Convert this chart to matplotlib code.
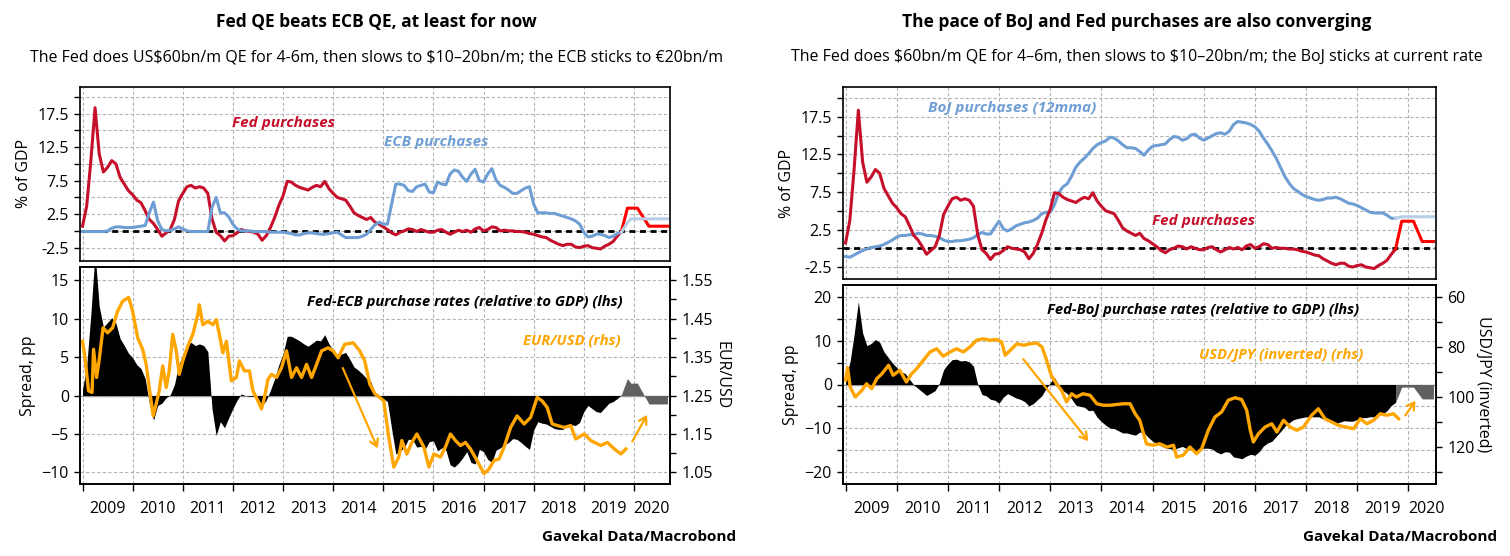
import numpy as np
import matplotlib
matplotlib.use('Agg')
import matplotlib.pyplot as plt
from matplotlib.ticker import FixedLocator, NullFormatter, FormatStrFormatter

plt.rcParams['font.family'] = ['Open Sans', 'DejaVu Sans']
plt.rcParams['axes.unicode_minus'] = True

# monthly grid Jan 2009 .. Oct 2019 (decimal years)
months = 2009 + np.arange(130) / 12

# Fed purchases, % of GDP (annualised)
fed = [0.7, 3.7, 10.5, 18.4, 11.5, 8.8, 9.5, 10.5, 10.0, 8.0, 7.0, 6.0,
       5.4, 4.6, 4.2, 3.0, 1.7, 1.1, 0.2, -0.8, -0.3, 0.2, 1.7, 4.5,
       5.6, 6.6, 6.8, 6.4, 6.6, 6.4, 5.6, 1.8, -0.2, -0.7, -1.5, -0.8,
       -0.7, -0.3, 0.2, 0.0, -0.1, -0.2, -0.5, -1.4, -0.7, 0.5, 2.0, 3.8,
       5.2, 7.4, 7.3, 6.8, 6.5, 6.3, 6.1, 6.5, 6.8, 6.6, 7.4, 6.3,
       5.6, 5.0, 4.8, 4.6, 3.7, 2.7, 2.3, 2.0, 1.7, 2.0, 1.3, 1.0,
       0.6, 0.2, -0.3, -0.6, -0.2, 0.0, 0.3, 0.2, -0.1, 0.2, 0.0, -0.2,
       -0.2, 0.1, 0.2, -0.2, -0.5, -0.2, 0.1, -0.1, 0.1, -0.2, 0.3, 0.5,
       0.0, 0.2, 0.6, 0.5, 0.0, 0.1, 0.0, 0.0, -0.1, -0.1, -0.2, -0.4,
       -0.5, -0.7, -0.9, -1.0, -1.4, -1.7, -2.0, -2.2, -2.0, -2.0, -2.4, -2.5,
       -2.3, -2.2, -2.5, -2.6, -2.7, -2.3, -2.0, -1.6, -0.8, -0.1]

# ECB purchases, % of GDP
ecb = [-0.1, -0.1, -0.1, -0.1, -0.1, -0.1, 0.0, 0.4, 0.6, 0.6, 0.5, 0.5,
       0.5, 0.6, 0.7, 0.8, 2.7, 4.3, 1.5, 0.2, 0.0, 0.1, 0.3, 0.6,
       0.3, 0.0, -0.1, -0.1, -0.1, -0.1, -0.1, 3.5, 5.0, 2.7, 2.7, 2.1,
       1.0, 0.3, 0.0, 0.0, 0.0, -0.1, -0.1, -0.1, -0.1, -0.2, -0.2, -0.2,
       -0.2, -0.3, -0.4, -0.6, -0.6, -0.4, -0.3, -0.3, -0.4, -0.5, -0.5, -0.4,
       -0.3, -0.2, -0.6, -1.0, -1.0, -1.0, -1.0, -0.8, -0.5, 0.2, 0.9, 1.3,
       1.0, 1.0, 4.0, 7.0, 7.0, 6.8, 6.0, 5.9, 6.6, 6.8, 7.0, 5.8,
       5.7, 7.3, 7.0, 6.9, 8.5, 9.1, 8.9, 8.0, 7.4, 8.5, 9.2, 7.5,
       7.3, 8.5, 9.3, 7.6, 6.8, 6.5, 6.1, 5.6, 5.6, 6.0, 6.4, 6.6,
       4.0, 2.7, 2.7, 2.7, 2.6, 2.6, 2.4, 2.2, 2.0, 1.8, 1.5, 1.0,
       -0.2, -0.9, -0.8, -0.5, -0.5, -0.7, -1.0, -0.8, -0.4, -0.2]

# BoJ purchases (12mma), % of GDP
boj = [-1.1, -1.2, -0.9, -0.6, -0.3, -0.1, 0.1, 0.2, 0.3, 0.5, 0.8, 1.1,
       1.5, 1.7, 1.7, 1.8, 1.8, 2.0, 1.9, 1.7, 1.7, 1.6, 1.4, 1.1,
       0.9, 0.9, 1.0, 1.0, 1.1, 1.2, 1.4, 1.8, 2.1, 1.9, 1.9, 2.8,
       3.6, 2.6, 2.3, 2.6, 3.0, 3.2, 3.4, 3.5, 3.7, 4.0, 4.6, 4.8,
       4.8, 5.8, 7.4, 8.2, 8.6, 9.6, 10.8, 11.5, 12.0, 12.6, 13.3, 13.8,
       14.1, 14.3, 14.8, 14.7, 14.3, 13.8, 13.4, 13.4, 13.3, 12.9, 12.4, 13.1,
       13.6, 13.7, 13.8, 13.9, 14.5, 14.9, 14.8, 14.4, 14.6, 15.1, 15.2, 14.7,
       14.4, 14.7, 15.0, 15.3, 15.4, 15.2, 15.6, 16.5, 16.9, 16.8, 16.7, 16.5,
       16.2, 15.6, 14.7, 13.9, 13.0, 12.0, 10.8, 9.6, 8.7, 8.0, 7.6, 7.2,
       6.9, 6.7, 6.5, 6.4, 6.5, 6.7, 6.7, 6.8, 6.6, 6.3, 6.0, 5.9,
       5.7, 5.4, 5.1, 4.8, 4.7, 4.7, 4.7, 4.4, 4.0, 4.0]

# scenario paths
ecb_proj_dates = [2019.75, 2019.87, 2019.94, 2020.07, 2020.30, 2020.67]
fed_proj_ecb = [-0.1, 3.4, 3.4, 3.4, 0.7, 0.7]
ecb_proj = [-0.2, 1.2, 1.8, 1.8, 1.8, 1.8]

boj_proj_dates = [2019.75, 2019.87, 2020.10, 2020.27, 2020.49]
fed_proj_boj = [-0.1, 3.6, 3.6, 0.9, 0.9]
boj_proj = [4.0, 4.2, 4.2, 4.2, 4.2]

# EUR/USD
eur_dates = [2009.00, 2009.05, 2009.12, 2009.19, 2009.22, 2009.28, 2009.33, 2009.41, 2009.50, 2009.60,
             2009.70, 2009.80, 2009.92, 2010.00, 2010.10, 2010.20, 2010.27, 2010.33, 2010.41, 2010.47,
             2010.53, 2010.60, 2010.67, 2010.73, 2010.80, 2010.87, 2010.93, 2011.00, 2011.10, 2011.20,
             2011.30, 2011.33, 2011.40, 2011.50, 2011.60, 2011.67, 2011.73, 2011.80, 2011.87, 2011.97,
             2012.07, 2012.13, 2012.23, 2012.33, 2012.40, 2012.50, 2012.57, 2012.63, 2012.70, 2012.77,
             2012.87, 2012.97, 2013.07, 2013.17, 2013.27, 2013.37, 2013.47, 2013.57, 2013.67, 2013.77,
             2013.90, 2014.00, 2014.10, 2014.23, 2014.40, 2014.53, 2014.63, 2014.73, 2014.83, 2014.93,
             2015.01, 2015.11, 2015.21, 2015.31, 2015.37, 2015.47, 2015.57, 2015.67, 2015.81, 2015.91,
             2016.01, 2016.14, 2016.24, 2016.34, 2016.44, 2016.54, 2016.64, 2016.74, 2016.87, 2017.01,
             2017.11, 2017.21, 2017.31, 2017.41, 2017.54, 2017.67, 2017.81, 2017.94, 2018.07, 2018.17,
             2018.27, 2018.37, 2018.47, 2018.61, 2018.74, 2018.84, 2019.01, 2019.14, 2019.34, 2019.47,
             2019.61, 2019.74, 2019.84]
eur_usd = [1.391, 1.348, 1.262, 1.258, 1.370, 1.297, 1.340, 1.426, 1.413, 1.426,
           1.469, 1.495, 1.505, 1.469, 1.400, 1.370, 1.331, 1.271, 1.197, 1.228,
           1.262, 1.327, 1.271, 1.314, 1.409, 1.366, 1.305, 1.340, 1.378, 1.409,
           1.460, 1.486, 1.434, 1.443, 1.434, 1.447, 1.409, 1.361, 1.391, 1.288,
           1.297, 1.340, 1.314, 1.314, 1.262, 1.236, 1.215, 1.245, 1.292, 1.305,
           1.297, 1.322, 1.366, 1.297, 1.322, 1.297, 1.331, 1.297, 1.331, 1.366,
           1.374, 1.366, 1.348, 1.383, 1.387, 1.366, 1.340, 1.280, 1.255, 1.245,
           1.236, 1.141, 1.064, 1.090, 1.133, 1.098, 1.128, 1.150, 1.116, 1.064,
           1.098, 1.090, 1.116, 1.150, 1.133, 1.120, 1.128, 1.111, 1.081, 1.047,
           1.059, 1.081, 1.085, 1.116, 1.167, 1.197, 1.176, 1.193, 1.245, 1.236,
           1.219, 1.176, 1.172, 1.167, 1.172, 1.137, 1.150, 1.133, 1.120, 1.128,
           1.111, 1.098, 1.111]

# USD/JPY
jpy_dates = [2009.00, 2009.04, 2009.09, 2009.19, 2009.32, 2009.41, 2009.51, 2009.61, 2009.71, 2009.84,
             2009.93, 2010.06, 2010.19, 2010.29, 2010.39, 2010.52, 2010.65, 2010.78, 2010.91, 2011.04,
             2011.17, 2011.30, 2011.43, 2011.56, 2011.69, 2011.82, 2011.95, 2012.05, 2012.12, 2012.22,
             2012.35, 2012.48, 2012.61, 2012.74, 2012.84, 2012.93, 2013.02, 2013.12, 2013.22, 2013.32,
             2013.42, 2013.51, 2013.64, 2013.78, 2013.91, 2014.04, 2014.17, 2014.30, 2014.43, 2014.56,
             2014.66, 2014.75, 2014.88, 2015.01, 2015.14, 2015.28, 2015.41, 2015.47, 2015.60, 2015.73,
             2015.86, 2015.96, 2016.09, 2016.22, 2016.35, 2016.48, 2016.61, 2016.74, 2016.84, 2016.91,
             2016.97, 2017.07, 2017.20, 2017.33, 2017.43, 2017.56, 2017.69, 2017.82, 2017.95, 2018.11,
             2018.24, 2018.37, 2018.50, 2018.63, 2018.77, 2018.93, 2019.06, 2019.19, 2019.32, 2019.45,
             2019.58, 2019.71, 2019.81]
usd_jpy = [93.3, 88.3, 96.0, 100.0, 97.3, 94.7, 96.7, 92.7, 90.7, 87.3,
           91.3, 89.3, 94.0, 90.7, 88.7, 85.3, 82.0, 80.7, 83.7, 82.0,
           80.7, 82.0, 80.0, 77.3, 76.7, 77.3, 77.0, 78.0, 83.3, 81.3,
           78.7, 79.3, 78.7, 78.4, 80.0, 85.3, 91.3, 94.7, 97.3, 102.0,
           98.7, 100.0, 98.7, 99.3, 102.7, 103.3, 103.3, 103.0, 102.7, 102.7,
           106.7, 109.3, 118.7, 119.3, 118.7, 120.0, 119.3, 124.0, 123.3, 120.0,
           122.7, 120.7, 113.3, 108.0, 106.0, 101.3, 100.3, 101.0, 105.3, 113.3,
           118.0, 114.7, 112.0, 110.7, 114.0, 109.3, 112.0, 113.3, 112.0, 107.3,
           104.7, 108.7, 110.0, 111.3, 112.0, 112.7, 108.7, 110.7, 109.3, 106.7,
           107.3, 106.7, 108.7]

years = list(range(2009, 2021))
year_labels = [str(y) for y in years]
label_pos = [y + 0.5 for y in years[:-1]] + [2020.36]

RED = '#c50f2b'
BLUE = '#6f9ed4'
LIGHTBLUE = '#b9cde6'
BRIGHTRED = '#ff0000'
ORANGE = '#ffa500'
GRID = '#b4b4b4'
FS = 11
TICK_FS = 11.5

W, H = 1510, 556
fig = plt.figure(figsize=(W / 100, H / 100), dpi=100)


def box(x0, y0, x1, y1):
    return [x0 / W, 1 - y1 / H, (x1 - x0) / W, (y1 - y0) / H]


def base_style(ax, xmax):
    ax.set_xlim(2008.95, xmax)
    ax.xaxis.set_major_locator(FixedLocator(years))
    ax.xaxis.set_major_formatter(NullFormatter())
    ax.grid(which='both', color=GRID, linestyle=(0, (3, 2)), linewidth=0.8)
    ax.set_axisbelow(True)
    ax.tick_params(axis='y', which='both', direction='out', length=4.5, width=1,
                   labelsize=TICK_FS)
    for s in ax.spines.values():
        s.set_linewidth(1.2)


def top_panel(ax, xmax, ylim):
    base_style(ax, xmax)
    ax.set_ylim(*ylim)
    ax.yaxis.set_major_locator(FixedLocator([-2.5, 2.5, 7.5, 12.5, 17.5]))
    ax.yaxis.set_minor_locator(FixedLocator([0, 5, 10, 15, 20]))
    ax.yaxis.set_major_formatter(FormatStrFormatter('%.1f'))
    ax.tick_params(axis='x', which='both', length=0)
    ax.set_ylabel('% of GDP', fontsize=TICK_FS, labelpad=4)
    ax.axhline(0, color='black', linestyle=(0, (2.2, 1.6)), linewidth=2, zorder=2)


def bottom_panel(ax, xmax):
    base_style(ax, xmax)
    ax.tick_params(axis='x', which='major', direction='out', length=5, width=1)
    ax.set_xticks(label_pos, year_labels, minor=True)
    ax.tick_params(axis='x', which='minor', length=0, labelsize=TICK_FS, pad=12)
    ax.grid(which='minor', axis='x', visible=False)
    ax.axhline(0, color='#9a9a9a', linewidth=1, zorder=1.5)
    ax.set_ylabel('Spread, pp', fontsize=TICK_FS, labelpad=4)


def fx_axis(ax, ylim, major, minor, label):
    ax.set_ylim(*ylim)
    ax.yaxis.set_major_locator(FixedLocator(major))
    ax.yaxis.set_minor_locator(FixedLocator(minor))
    ax.tick_params(axis='y', which='both', direction='out', length=4.5, width=1,
                   labelsize=TICK_FS)
    ax.set_ylabel(label, fontsize=TICK_FS, rotation=270, labelpad=12)
    for s in ax.spines.values():
        s.set_linewidth(1.2)


ARROW = dict(arrowstyle='->,head_length=0.5,head_width=0.3', color=ORANGE, lw=1.6)
fed_a = np.array(fed)

# ---------------- left: Fed vs ECB ----------------
ax1 = fig.add_axes(box(80, 87, 670, 261))
top_panel(ax1, 2020.72, (-4.5, 21.5))
ax1.plot(months, fed, color=RED, lw=2.2, zorder=3)
ax1.plot(months, ecb, color=BLUE, lw=2.2, zorder=3)
ax1.plot(ecb_proj_dates, fed_proj_ecb, color=BRIGHTRED, lw=2.2, zorder=3)
ax1.plot(ecb_proj_dates, ecb_proj, color=LIGHTBLUE, lw=2.2, zorder=3)
ax1.text(2013.0, 16.1, 'Fed purchases', color=RED, fontsize=FS, style='italic',
         weight='bold', ha='center', va='center')
ax1.text(2016.05, 13.3, 'ECB purchases', color=BLUE, fontsize=FS, style='italic',
         weight='bold', ha='center', va='center')

ax2 = fig.add_axes(box(80, 267, 670, 484))
bottom_panel(ax2, 2020.72)
ax2.set_ylim(-11.5, 16.7)
ax2.yaxis.set_major_locator(FixedLocator([-10, -5, 0, 5, 10, 15]))
spread_ecb = fed_a - np.array(ecb)
ax2.fill_between(months, spread_ecb, 0, color='black', lw=0, zorder=2)
ax2.fill_between(ecb_proj_dates, np.array(fed_proj_ecb) - np.array(ecb_proj), 0,
                 color='#606060', lw=0, zorder=2)
ax2.text(2019.78, 12.2, 'Fed-ECB purchase rates (relative to GDP) (lhs)', fontsize=10.6,
         style='italic', weight='bold', ha='right', va='center')
ax2.text(2019.73, 7.2, 'EUR/USD (rhs)', color=ORANGE, fontsize=10.6, style='italic',
         weight='bold', ha='right', va='center')
ax2.annotate('', xy=(2014.91, -7.2), xytext=(2014.17, 3.9), arrowprops=ARROW, zorder=5)
ax2.annotate('', xy=(2020.29, -2.2), xytext=(2019.94, -6.3), arrowprops=ARROW, zorder=5)

ax2r = ax2.twinx()
fx_axis(ax2r, (1.02, 1.584), [1.05, 1.15, 1.25, 1.35, 1.45, 1.55],
        [1.10, 1.20, 1.30, 1.40, 1.50], 'EUR/USD')
ax2r.yaxis.set_major_formatter(FormatStrFormatter('%.2f'))
ax2r.plot(eur_dates, eur_usd, color=ORANGE, lw=2.4)

# ---------------- right: Fed vs BoJ ----------------
ax3 = fig.add_axes(box(843, 87, 1436, 279))
top_panel(ax3, 2020.54, (-4.1, 21.5))
ax3.plot(months, boj, color=BLUE, lw=2.2, zorder=3)
ax3.plot(months, fed, color=RED, lw=2.2, zorder=3)
ax3.plot(boj_proj_dates, boj_proj, color=LIGHTBLUE, lw=2.2, zorder=3)
ax3.plot(boj_proj_dates, fed_proj_boj, color=BRIGHTRED, lw=2.2, zorder=3)
ax3.text(2012.25, 18.7, 'BoJ purchases (12mma)', color=BLUE, fontsize=FS, style='italic',
         weight='bold', ha='center', va='center')
ax3.text(2016.0, 3.6, 'Fed purchases', color=RED, fontsize=FS, style='italic',
         weight='bold', ha='center', va='center')

ax4 = fig.add_axes(box(843, 285, 1436, 484))
bottom_panel(ax4, 2020.54)
ax4.set_ylim(-22.8, 22.8)
ax4.yaxis.set_major_locator(FixedLocator([-20, -10, 0, 10, 20]))
ax4.yaxis.set_minor_locator(FixedLocator([-15, -5, 5, 15]))
spread_boj = fed_a - np.array(boj)
ax4.fill_between(months, spread_boj, 0, color='black', lw=0, zorder=2)
ax4.fill_between(boj_proj_dates, np.array(fed_proj_boj) - np.array(boj_proj), 0,
                 color='#606060', lw=0, zorder=2)
ax4.text(2019.04, 17.0, 'Fed-BoJ purchase rates (relative to GDP) (lhs)', fontsize=10.6,
         style='italic', weight='bold', ha='right', va='center')
ax4.text(2019.12, 6.7, 'USD/JPY (inverted) (rhs)', color=ORANGE, fontsize=10.6, style='italic',
         weight='bold', ha='right', va='center')
ax4.annotate('', xy=(2013.78, -13.5), xytext=(2012.44, 6.3), arrowprops=ARROW, zorder=5)
ax4.annotate('', xy=(2020.17, -3.2), xytext=(2019.91, -7.6), arrowprops=ARROW, zorder=5)

ax4r = ax4.twinx()
fx_axis(ax4r, (134.8, 55.2), [60, 80, 100, 120], [70, 90, 110, 130], 'USD/JPY (inverted)')
ax4r.plot(jpy_dates, usd_jpy, color=ORANGE, lw=2.4)

# ---------------- titles / source ----------------
fig.text(376 / W, 1 - 22 / H, 'Fed QE beats ECB QE, at least for now',
         fontsize=12.5, weight='bold', ha='center', va='center')
fig.text(1137 / W, 1 - 22 / H, 'The pace of BoJ and Fed purchases are also converging',
         fontsize=12.5, weight='bold', ha='center', va='center')
fig.text(377 / W, 1 - 57 / H,
         r'The Fed does US\$60bn/m QE for 4-6m, then slows to \$10–20bn/m; the ECB sticks to €20bn/m',
         fontsize=11.5, ha='center', va='center')
fig.text(1137 / W, 1 - 57 / H,
         r'The Fed does \$60bn/m QE for 4–6m, then slows to \$10–20bn/m; the BoJ sticks at current rate',
         fontsize=11.5, ha='center', va='center')
fig.text(736 / W, 1 - 537 / H, 'Gavekal Data/Macrobond', fontsize=FS, weight='bold',
         ha='right', va='center')
fig.text(1497 / W, 1 - 537 / H, 'Gavekal Data/Macrobond', fontsize=FS, weight='bold',
         ha='right', va='center')

fig.savefig('out.png', dpi=100)
